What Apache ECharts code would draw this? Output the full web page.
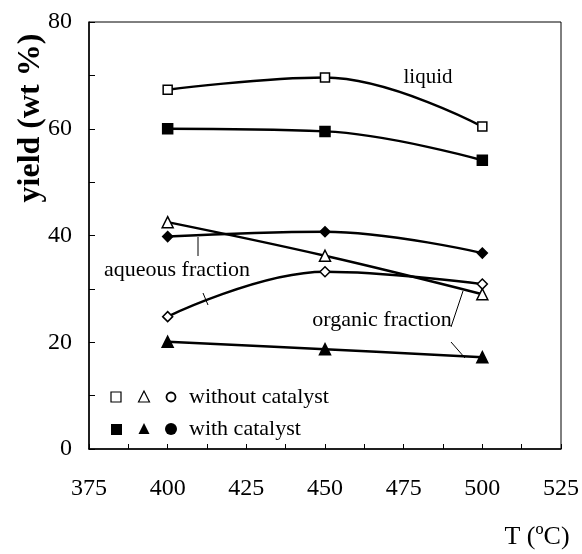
<!DOCTYPE html>
<html>
<head>
	<meta charset="utf-8">
	<title>yield vs T</title>
	<script type="text/javascript" src="https://cdn.jsdelivr.net/npm/echarts@6/dist/echarts.min.js"></script>
	<style>
		html, body { margin: 0; padding: 0; background: #fff; }
	</style>
</head>
<body>
	<div id="main" style="width: 582px;height:554px;"></div>
	<script type="text/javascript">
		var temps = [400, 450, 500];
		// without catalyst (open symbols)
		var liquidNoCat = [67.3, 69.6, 60.4];
		var aqueousNoCat = [42.5, 36.2, 29.0];
		var organicNoCat = [24.8, 33.2, 30.9];
		// with catalyst (filled symbols)
		var liquidCat = [60.0, 59.5, 54.1];
		var aqueousCat = [39.8, 40.7, 36.7];
		var organicCat = [20.1, 18.7, 17.2];

		var serif = 'Liberation Serif';

		function pairs(ys) {
			return temps.map(function (t, i) { return [t, ys[i]]; });
		}

		function makeLine(name, ys, symbol, size, filled) {
			return {
				name: name,
				type: 'line',
				data: pairs(ys),
				smooth: 0.4,
				symbol: symbol,
				symbolSize: size,
				showAllSymbol: true,
				lineStyle: { color: '#000', width: 2.4 },
				itemStyle: {
					color: filled ? '#000' : '#fff',
					borderColor: '#000',
					borderWidth: 1.5
				},
				z: 3
			};
		}

		function txt(x, y, s, size, align) {
			return {
				type: 'text', x: x, y: y,
				style: {
					text: s, fill: '#000', fontFamily: serif, fontSize: size,
					align: align || 'center', verticalAlign: 'middle'
				}
			};
		}

		// tick labels via rich text so size and family stick
		var tickRich = { t: { fontFamily: serif, fontSize: 24, color: '#000' } };

		var myChart = echarts.init(document.getElementById('main'));

		var option = {
			animation: false,
			backgroundColor: '#fff',
			textStyle: { fontFamily: serif, color: '#000' },
			grid: {
				left: 89, top: 22, right: 21, bottom: 105,
				show: true,
				borderColor: '#000',
				borderWidth: 1
			},
			xAxis: {
				type: 'value',
				min: 375,
				max: 525,
				interval: 12.5,
				axisLine: { lineStyle: { color: '#000', width: 1.5 } },
				axisTick: { inside: true, length: 5, lineStyle: { color: '#000' } },
				splitLine: { show: false },
				axisLabel: {
					margin: 28,
					color: '#000',
					fontFamily: serif,
					fontSize: 24,
					rich: tickRich,
					formatter: function (v) { return v % 25 === 0 ? '{t|' + v + '}' : ''; }
				}
			},
			yAxis: {
				type: 'value',
				min: 0,
				max: 80,
				interval: 10,
				axisLine: { lineStyle: { color: '#000', width: 1.5 } },
				axisTick: { inside: true, length: 6, lineStyle: { color: '#000' } },
				splitLine: { show: false },
				axisLabel: {
					margin: 17,
					color: '#000',
					fontFamily: serif,
					fontSize: 24,
					rich: tickRich,
					formatter: function (v) { return v % 20 === 0 ? '{t|' + v + '}' : ''; }
				}
			},
			series: [
				makeLine('liquid without catalyst', liquidNoCat, 'rect', 9, false),
				makeLine('liquid with catalyst', liquidCat, 'rect', 10, true),
				makeLine('aqueous without catalyst', aqueousNoCat, 'triangle', 11, false),
				makeLine('aqueous with catalyst', aqueousCat, 'diamond', 10, true),
				makeLine('organic without catalyst', organicNoCat, 'diamond', 10, false),
				makeLine('organic with catalyst', organicCat, 'triangle', 11, true)
			],
			graphic: [
				// axis titles
				{
					type: 'text', x: 31, y: 118, rotation: Math.PI / 2,
					style: {
						text: 'yield (wt %)', fill: '#000', fontFamily: serif, fontWeight: 'bold', fontSize: 32,
						align: 'center', verticalAlign: 'middle'
					}
				},
				txt(537, 537, 'T (ºC)', 26),
				// annotations
				txt(428, 77, 'liquid', 21),
				txt(177, 270, 'aqueous fraction', 22),
				txt(382, 320, 'organic fraction', 22),
				{ type: 'line', shape: { x1: 198, y1: 237, x2: 198, y2: 256 }, style: { stroke: '#000', lineWidth: 1 } },
				{ type: 'line', shape: { x1: 203, y1: 293, x2: 208, y2: 305 }, style: { stroke: '#000', lineWidth: 1 } },
				{ type: 'line', shape: { x1: 451, y1: 327, x2: 463, y2: 291 }, style: { stroke: '#000', lineWidth: 1 } },
				{ type: 'line', shape: { x1: 451, y1: 342, x2: 465, y2: 358 }, style: { stroke: '#000', lineWidth: 1 } },
				// legend
				{ type: 'rect', shape: { x: 111, y: 392, width: 10, height: 10 }, style: { fill: '#fff', stroke: '#000', lineWidth: 1.2 } },
				{ type: 'polygon', shape: { points: [[144, 391], [138.5, 402], [149.5, 402]] }, style: { fill: '#fff', stroke: '#000', lineWidth: 1.2 } },
				{ type: 'circle', shape: { cx: 171, cy: 397, r: 4.5 }, style: { fill: '#fff', stroke: '#000', lineWidth: 1.8 } },
				txt(189, 397, 'without catalyst', 22, 'left'),
				{ type: 'rect', shape: { x: 111, y: 424, width: 11, height: 11 }, style: { fill: '#000' } },
				{ type: 'polygon', shape: { points: [[144, 423], [138.5, 434], [149.5, 434]] }, style: { fill: '#000' } },
				{ type: 'circle', shape: { cx: 171, cy: 429, r: 6 }, style: { fill: '#000' } },
				txt(189, 429, 'with catalyst', 22, 'left')
			]
		};

		myChart.setOption(option);
	</script>
</body>
</html>
